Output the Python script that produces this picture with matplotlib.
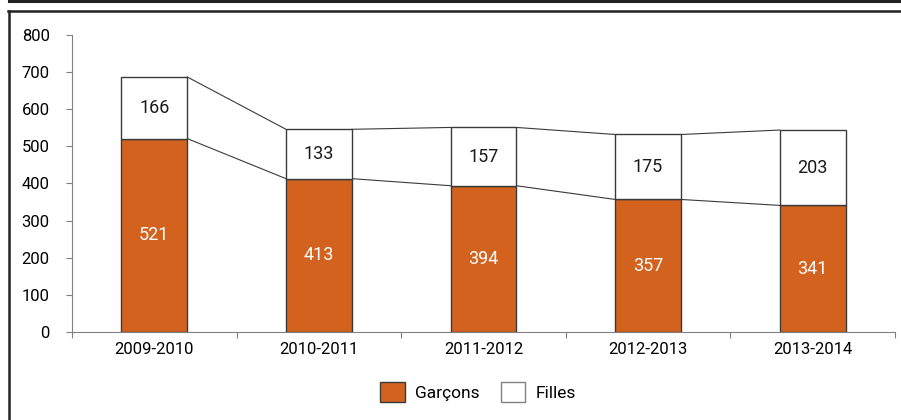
import matplotlib
matplotlib.use("Agg")
import matplotlib.pyplot as plt
from matplotlib.lines import Line2D
from matplotlib.patches import Patch
import numpy as np

# data
years = ["2009-2010", "2010-2011", "2011-2012", "2012-2013", "2013-2014"]
garcons = [521, 413, 394, 357, 341]
filles = [166, 133, 157, 175, 203]

ORANGE = "#D3621F"
EDGE = "#3a3a3a"
AXIS = "#808080"

plt.rcParams["font.family"] = ["Roboto", "DejaVu Sans"]

fig = plt.figure(figsize=(9.01, 4.2), dpi=100)
ax = fig.add_axes([72 / 901, 88 / 420, 823 / 901, 297 / 420])

x = np.arange(len(years))
w = 0.4
g = np.array(garcons)
f = np.array(filles)
tot = g + f

ax.bar(x, g, width=w, color=ORANGE, edgecolor=EDGE, linewidth=1, zorder=3)
ax.bar(x, f, width=w, bottom=g, color="white", edgecolor=EDGE, linewidth=1, zorder=3)

# series lines between bars
for i in range(len(x) - 1):
    ax.plot([x[i] + w / 2, x[i + 1] - w / 2], [g[i], g[i + 1]],
            color=EDGE, linewidth=0.8, zorder=2)
    ax.plot([x[i] + w / 2, x[i + 1] - w / 2], [tot[i], tot[i + 1]],
            color=EDGE, linewidth=0.8, zorder=2)

for i in range(len(x)):
    ax.text(x[i], g[i] / 2, str(g[i]), ha="center", va="center",
            color="white", fontsize=13, zorder=4)
    ax.text(x[i], g[i] + f[i] / 2, str(f[i]), ha="center", va="center",
            color="#1a1a1a", fontsize=13, zorder=4)

ax.set_xlim(-0.5, len(years) - 0.5)
ax.set_ylim(0, 800)
ax.set_yticks(range(0, 801, 100))
ax.tick_params(axis="y", direction="out", length=4, color=AXIS,
               labelsize=12, pad=12)

# ticks at category boundaries, labels at centres
ax.set_xticks(np.arange(-0.5, len(years), 1.0))
ax.set_xticklabels([])
ax.tick_params(axis="x", which="major", direction="out", length=4, color=AXIS)
ax.set_xticks(x, minor=True)
ax.set_xticklabels(years, minor=True)
ax.tick_params(axis="x", which="minor", length=0, labelsize=12, pad=7)

for s in ["top", "right"]:
    ax.spines[s].set_visible(False)
ax.spines["left"].set_color(AXIS)
ax.spines["bottom"].set_color(AXIS)

handles = [Patch(facecolor=ORANGE, edgecolor=EDGE, linewidth=1),
           Patch(facecolor="white", edgecolor=AXIS, linewidth=1)]
fig.legend(handles, ["Garçons", "Filles"], loc="center",
           bbox_to_anchor=(478 / 901, 28 / 420), ncol=2, frameon=False,
           fontsize=12.5, handlelength=1.4, handleheight=1.4,
           handletextpad=0.6, columnspacing=1.2)

# frame lines
fig.add_artist(Line2D([9 / 901, 1], [1 - 1.2 / 420] * 2, color="#222222",
                      linewidth=2.2, transform=fig.transFigure))
fig.add_artist(Line2D([8 / 901, 1], [1 - 10.5 / 420] * 2, color="#222222",
                      linewidth=1.8, transform=fig.transFigure))
fig.add_artist(Line2D([8.5 / 901] * 2, [0, 1 - 10.5 / 420], color="#222222",
                      linewidth=1.8, transform=fig.transFigure))

fig.savefig("out.png", dpi=100)
